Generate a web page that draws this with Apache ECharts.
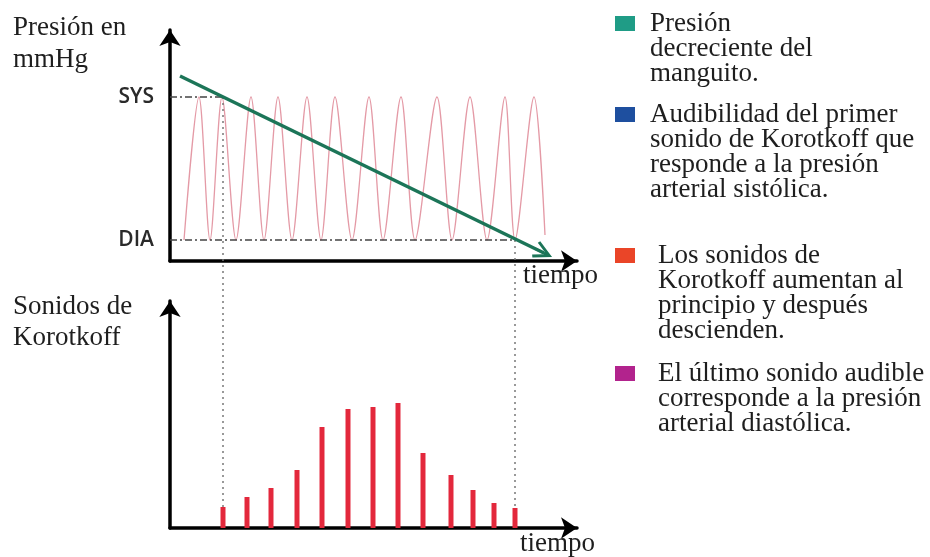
<!DOCTYPE html>
<html><head><meta charset="utf-8">
<script src="https://cdn.jsdelivr.net/npm/echarts@6/dist/echarts.min.js"></script>
<style>html,body{margin:0;padding:0;background:#fff}#c{width:930px;height:557px}</style>
</head><body><div id="c"></div>
<script>
// ---- data (time units along x, pressure / sound level along y) ----
const SYS = 164;
const DIA = 21;
const yTickValues = [DIA, SYS];
const yTickLabels = ['DIA', 'SYS'];

// arterial pressure oscillation: alternating troughs and peaks
const waveTime = [14, 29, 40, 52, 66, 81, 94, 108, 122, 137, 151, 165, 182, 199, 213, 231, 245, 267, 282, 300, 317, 335, 345, 364, 375];
const wavePressure = [21, 164, 21, 164, 21, 164, 21, 164, 21, 164, 21, 164, 21, 164, 21, 164, 21, 164, 21, 164, 21, 164, 21, 164, 26];

// decreasing cuff pressure (start, end)
const cuffTime = [10, 373.5];
const cuffPressure = [185, 8.2];

// Korotkoff sounds
const soundTime = [53, 77, 101, 127, 152, 178, 203, 228, 253, 281, 303, 324, 345];
const soundLevel = [21, 31, 40, 58, 101, 119, 121, 125, 75, 53, 38, 25, 20];

// first / last sound markers (time, overlay span)
const sysTime = 53;
const diaTime = 345;
const sysConnector = [431, 21];
const diaConnector = [288, 20];

const S1 = 'Presión\ndecreciente del\nmanguito.';
const S2 = 'Audibilidad del primer\nsonido de Korotkoff que\nresponde a la presión\narterial sistólica.';
const S3 = 'Los sonidos de\nKorotkoff aumentan al\nprincipio y después\ndescienden.';
const S4 = 'El último sonido audible\ncorresponde a la presión\narterial diastólica.';

const SERIF = '"Liberation Serif", "Times New Roman", serif';
const LH = 25;

const zip = (a, b) => a.map((v, i) => [v, b[i]]);

const axisLineArrow = {
  show: true, onZero: true,
  symbol: ['none', 'arrow'], symbolSize: [16, 16],
  lineStyle: { color: '#000', width: 3.5 }
};

function legendFor(name, color, lines, top, padLeft) {
  const pre = '\n'.repeat(lines - 1);
  return {
    data: [{ name: name, itemStyle: { color: color, borderWidth: 0 } }],
    left: 615, top: top, orient: 'vertical', icon: 'rect',
    itemWidth: 20, itemHeight: 15, selectedMode: false, padding: 0,
    formatter: n => pre + n,
    textStyle: { fontFamily: SERIF, fontSize: 27, lineHeight: LH, color: '#1e1e1e',
                 padding: [0, 0, 0, padLeft] }
  };
}

const chevron = 'path://M9,0 L18,17.5 L15.5,19 L10.2,8.5 L10.2,19 L7.8,19 L7.8,8.5 L2.5,19 L0,17.5 Z';

const option = {
  animation: false,
  backgroundColor: '#fff',
  grid: [
    { left: 170, top: 30, width: 407, height: 231 },
    { left: 170, top: 301, width: 407, height: 227 },
    { left: 170, top: 30, width: 407, height: 498 }
  ],
  xAxis: [
    { gridIndex: 0, type: 'value', min: 0, max: 407, axisLine: axisLineArrow,
      axisTick: { show: false }, axisLabel: { show: false }, splitLine: { show: false },
      name: 'tiempo', nameLocation: 'end', nameGap: 21,
      nameTextStyle: { fontFamily: SERIF, fontSize: 27, color: '#1e1e1e', align: 'right', verticalAlign: 'top', padding: [1, 0, 0, 0] } },
    { gridIndex: 1, type: 'value', min: 0, max: 407, axisLine: axisLineArrow,
      axisTick: { show: false }, axisLabel: { show: false }, splitLine: { show: false },
      name: 'tiempo', nameLocation: 'end', nameGap: 18,
      nameTextStyle: { fontFamily: SERIF, fontSize: 27, color: '#1e1e1e', align: 'right', verticalAlign: 'top', padding: [2, 0, 0, 0] } },
    { gridIndex: 2, type: 'value', min: 0, max: 407, show: false }
  ],
  yAxis: [
    { gridIndex: 0, type: 'value', min: 0, max: 231, axisLine: axisLineArrow,
      axisTick: { show: false }, splitLine: { show: false },
      axisLabel: { show: true, customValues: yTickValues, margin: 16,
        formatter: v => yTickLabels[yTickValues.indexOf(v)] || '',
        fontFamily: '"Open Sans", sans-serif', fontSize: 21, fontWeight: 600, color: '#2a2a2a' } },
    { gridIndex: 1, type: 'value', min: 0, max: 227, axisLine: axisLineArrow,
      axisTick: { show: false }, axisLabel: { show: false }, splitLine: { show: false } },
    { gridIndex: 2, type: 'value', min: 0, max: 498, show: false }
  ],
  legend: [
    legendFor(S1, '#1f9c86', 3, -40, 10),
    legendFor(S2, '#1e4f9f', 4, 26, 10),
    legendFor(S3, '#ea4528', 4, 167, 18),
    legendFor(S4, '#b2238d', 3, 310, 18)
  ],
  graphic: [
    { type: 'text', x: 0, y: 0, style: { x: 13, y: 12, text: 'Presión en\nmmHg', font: '27px ' + SERIF, lineHeight: 32, fill: '#1e1e1e', verticalAlign: 'top' } },
    { type: 'text', x: 0, y: 0, style: { x: 13, y: 291, text: 'Sonidos de\nKorotkoff', font: '27px ' + SERIF, lineHeight: 31, fill: '#1e1e1e', verticalAlign: 'top' } }
  ],
  series: [
    { name: 'Presión arterial', type: 'line', xAxisIndex: 0, yAxisIndex: 0,
      data: zip(waveTime, wavePressure), smooth: 0.3, symbol: 'none', silent: true,
      lineStyle: { color: '#e49aa6', width: 1.3 }, z: 2,
      markLine: { silent: true, symbol: 'none', label: { show: false },
        lineStyle: { color: '#444', width: 1.5, type: [7, 3, 2, 3] },
        data: [
          [{ coord: [0, SYS] }, { coord: [sysTime, SYS] }],
          [{ coord: [0, DIA] }, { coord: [diaTime, DIA] }]
        ] } },
    { name: S1, type: 'line', xAxisIndex: 0, yAxisIndex: 0, data: [], symbol: 'none', z: 5,
      lineStyle: { color: '#1c7558', width: 3.5 },
      markLine: { silent: true, symbol: ['none', chevron], symbolSize: [18, 19], label: { show: false },
        lineStyle: { color: '#1c7558', width: 3.5, type: 'solid' },
        data: [[{ coord: [cuffTime[0], cuffPressure[0]] }, { coord: [cuffTime[1], cuffPressure[1]] }]] } },
    { name: S2, type: 'line', xAxisIndex: 2, yAxisIndex: 2, silent: true,
      data: [[sysTime, sysConnector[0]], [sysTime, sysConnector[1]]], symbol: 'none', z: 3,
      lineStyle: { color: '#777', width: 1.5, type: [2, 4] } },
    { name: S3, type: 'bar', xAxisIndex: 1, yAxisIndex: 1, silent: true,
      data: zip(soundTime, soundLevel), barWidth: 5,
      itemStyle: { color: '#e3283c' } },
    { name: S4, type: 'line', xAxisIndex: 2, yAxisIndex: 2, silent: true,
      data: [[diaTime, diaConnector[0]], [diaTime, diaConnector[1]]], symbol: 'none', z: 3,
      lineStyle: { color: '#777', width: 1.5, type: [2, 4] } }
  ]
};

const chart = echarts.init(document.getElementById('c'));
chart.setOption(option);
</script>
</body></html>
